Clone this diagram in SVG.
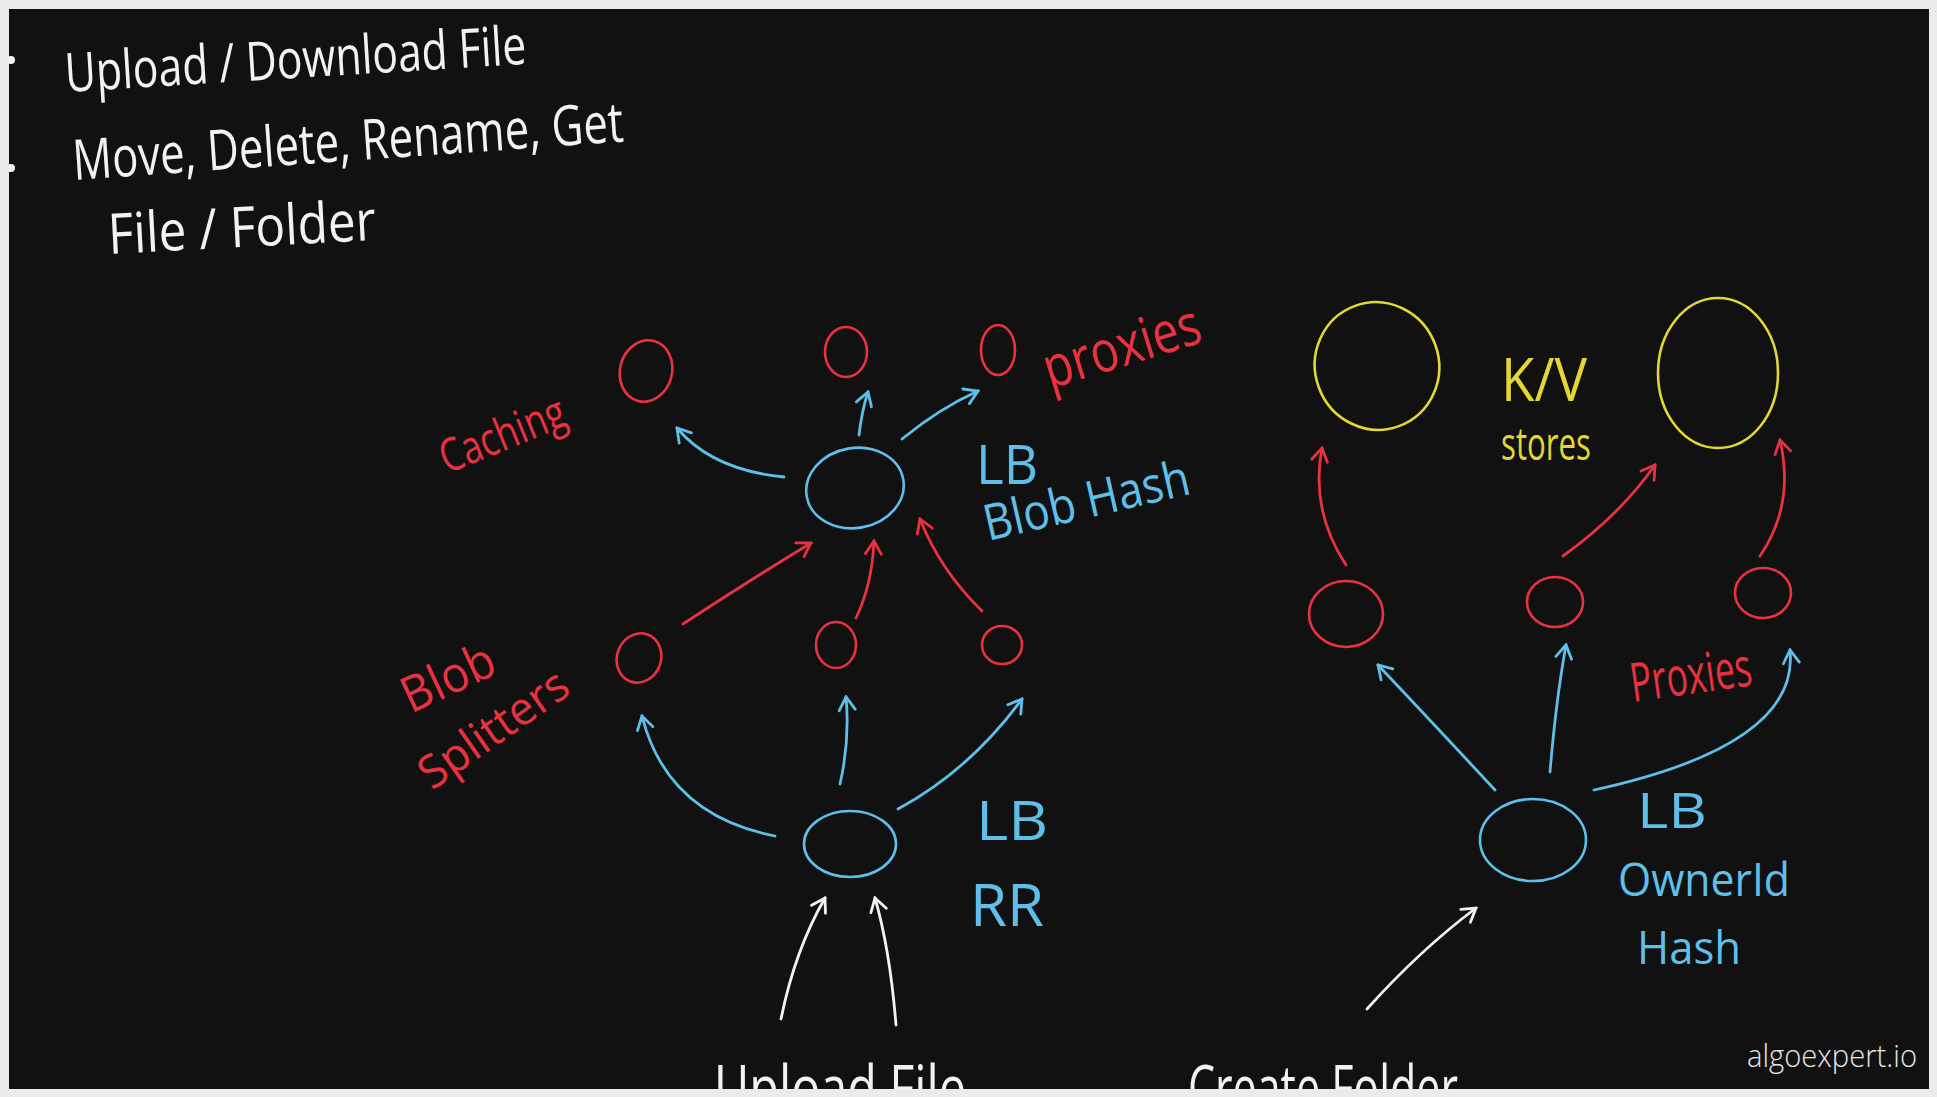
<svg xmlns="http://www.w3.org/2000/svg" width="1937" height="1097" viewBox="0 0 1937 1097">
<defs>
<style>
.hw{font-family:"Open Sans","Liberation Sans",sans-serif;font-weight:400;}
.w{fill:#f2f2f2;}
.r{fill:#e8323f;}
.b{fill:#5fbfe8;}
.y{fill:#e4d633;}
.sr{stroke:#e8323f;}
.sb{stroke:#5fbfe8;}
.sy{stroke:#e4d633;}
.sw{stroke:#f2f2f2;}
.node ellipse,.node path{fill:none;stroke-width:2.6;stroke-linecap:round;}
.conn path{fill:none;stroke-width:2.8;stroke-linecap:round;}
</style>
<clipPath id="board"><rect x="9" y="9" width="1920" height="1080"/></clipPath>
<marker id="mR" viewBox="-16 -10 18 20" refX="0" refY="0" markerWidth="18" markerHeight="20" markerUnits="userSpaceOnUse" orient="auto"><path d="M-13,-8 L0,0 L-13,8" fill="none" stroke="#e8323f" stroke-width="2.8" stroke-linecap="round"/></marker>
<marker id="mB" viewBox="-16 -10 18 20" refX="0" refY="0" markerWidth="18" markerHeight="20" markerUnits="userSpaceOnUse" orient="auto"><path d="M-13,-8 L0,0 L-13,8" fill="none" stroke="#5fbfe8" stroke-width="2.8" stroke-linecap="round"/></marker>
<marker id="mW" viewBox="-16 -10 18 20" refX="0" refY="0" markerWidth="18" markerHeight="20" markerUnits="userSpaceOnUse" orient="auto"><path d="M-13,-8 L0,0 L-13,8" fill="none" stroke="#f2f2f2" stroke-width="2.8" stroke-linecap="round"/></marker>
</defs>
<rect x="0" y="0" width="1937" height="1097" fill="#ebebeb"/>
<rect x="9" y="9" width="1920" height="1080" fill="#111111"/>
<g clip-path="url(#board)">
<g id="notes" class="hw w">
<circle cx="11" cy="60" r="4" fill="#f2f2f2"/>
<circle cx="11" cy="168" r="4" fill="#f2f2f2"/>
<text x="66" y="92" font-size="54" textLength="462" lengthAdjust="spacingAndGlyphs" transform="rotate(-3.5 66 92)">Upload / Download File</text>
<text x="74" y="180" font-size="56" textLength="552" lengthAdjust="spacingAndGlyphs" transform="rotate(-4 74 180)">Move, Delete, Rename, Get</text>
<text x="109" y="254" font-size="56" textLength="268" lengthAdjust="spacingAndGlyphs" transform="rotate(-3 109 254)">File / Folder</text>
</g>

<g class="conn">
<path class="sb" d="M784,477 Q712,470 677,428" marker-end="url(#mB)"/>
<path class="sb" d="M859,435 Q862,410 868,392" marker-end="url(#mB)"/>
<path class="sb" d="M902,439 Q940,408 978,391" marker-end="url(#mB)"/>
<path class="sr" d="M683,624 Q750,580 811,543" marker-end="url(#mR)"/>
<path class="sr" d="M856,618 Q872,585 874,541" marker-end="url(#mR)"/>
<path class="sr" d="M982,611 Q940,570 920,519" marker-end="url(#mR)"/>
<path class="sb" d="M775,836 Q667,815 642,716" marker-end="url(#mB)"/>
<path class="sb" d="M840,784 Q850,740 846,697" marker-end="url(#mB)"/>
<path class="sb" d="M898,809 Q970,770 1022,699" marker-end="url(#mB)"/>
<path class="sw" d="M781,1019 Q795,950 825,898" marker-end="url(#mW)"/>
<path class="sw" d="M896,1025 Q890,950 875,898" marker-end="url(#mW)"/>
<path class="sw" d="M1367,1009 Q1420,950 1476,908" marker-end="url(#mW)"/>
<path class="sr" d="M1346,565 Q1310,510 1322,448" marker-end="url(#mR)"/>
<path class="sr" d="M1563,556 Q1620,515 1655,465" marker-end="url(#mR)"/>
<path class="sr" d="M1760,556 Q1795,505 1780,440" marker-end="url(#mR)"/>
<path class="sb" d="M1495,790 Q1430,720 1378,665" marker-end="url(#mB)"/>
<path class="sb" d="M1550,772 Q1556,700 1566,645" marker-end="url(#mB)"/>
<path class="sb" d="M1594,790 Q1800,745 1790,650" marker-end="url(#mB)"/>
</g>

<g id="cache-1" class="node"><ellipse class="sr" cx="646" cy="371" rx="26" ry="31" transform="rotate(15 646 371)"/></g>
<g id="cache-2" class="node"><ellipse class="sr" cx="846" cy="352" rx="21" ry="25"/></g>
<g id="cache-3" class="node"><ellipse class="sr" cx="998" cy="350" rx="17" ry="25"/></g>
<g id="lb-blob-hash" class="node"><ellipse class="sb" cx="855" cy="488" rx="49" ry="40" transform="rotate(-10 855 488)"/></g>
<g id="splitter-1" class="node"><ellipse class="sr" cx="639" cy="658" rx="22" ry="25" transform="rotate(20 639 658)"/></g>
<g id="splitter-2" class="node"><ellipse class="sr" cx="836" cy="645" rx="20" ry="23"/></g>
<g id="splitter-3" class="node"><ellipse class="sr" cx="1002" cy="645" rx="20" ry="19"/></g>
<g id="lb-rr" class="node"><ellipse class="sb" cx="850" cy="844" rx="46" ry="33"/></g>
<g id="kv-1" class="node"><ellipse class="sy" cx="1377" cy="366" rx="62" ry="64" transform="rotate(-20 1377 366)"/></g>
<g id="kv-2" class="node"><ellipse class="sy" cx="1718" cy="373" rx="60" ry="75"/></g>
<g id="proxy-1" class="node"><ellipse class="sr" cx="1346" cy="614" rx="37" ry="33"/></g>
<g id="proxy-2" class="node"><ellipse class="sr" cx="1555" cy="602" rx="28" ry="25"/></g>
<g id="proxy-3" class="node"><ellipse class="sr" cx="1763" cy="593" rx="28" ry="25"/></g>
<g id="lb-owner" class="node"><ellipse class="sb" cx="1533" cy="840" rx="53" ry="41"/></g>

<g id="labels" class="hw">
<text class="r" x="447" y="474" font-size="46" textLength="132" lengthAdjust="spacingAndGlyphs" transform="rotate(-22 447 474)">Caching</text>
<text class="r" x="1050" y="389" font-size="58" textLength="162" lengthAdjust="spacingAndGlyphs" transform="rotate(-17 1050 389)">proxies</text>
<text class="b" x="976" y="484" font-size="54" textLength="62" lengthAdjust="spacingAndGlyphs">LB</text>
<text class="b" x="988" y="541" font-size="50" textLength="210" lengthAdjust="spacingAndGlyphs" transform="rotate(-13 988 541)">Blob Hash</text>
<text class="r" x="411" y="714" font-size="50" textLength="98" lengthAdjust="spacingAndGlyphs" transform="rotate(-25 411 714)">Blob</text>
<text class="r" x="432" y="791" font-size="46" textLength="172" lengthAdjust="spacingAndGlyphs" transform="rotate(-35 432 791)">Splitters</text>
<text class="b" x="976" y="840" font-size="54" textLength="72" lengthAdjust="spacingAndGlyphs">LB</text>
<text class="b" x="970" y="926" font-size="58" textLength="74" lengthAdjust="spacingAndGlyphs">RR</text>
<text class="y" x="1501" y="401" font-size="60" textLength="86" lengthAdjust="spacingAndGlyphs">K/V</text>
<text class="y" x="1501" y="460" font-size="46" textLength="90" lengthAdjust="spacingAndGlyphs">stores</text>
<text class="r" x="1633" y="702" font-size="54" textLength="122" lengthAdjust="spacingAndGlyphs" transform="rotate(-8 1633 702)">Proxies</text>
<text class="b" x="1637" y="828" font-size="50" textLength="70" lengthAdjust="spacingAndGlyphs">LB</text>
<text class="b" x="1618" y="896" font-size="46" textLength="172" lengthAdjust="spacingAndGlyphs">OwnerId</text>
<text class="b" x="1637" y="964" font-size="46" textLength="104" lengthAdjust="spacingAndGlyphs">Hash</text>
<text class="w" x="714" y="1110" font-size="62" textLength="252" lengthAdjust="spacingAndGlyphs">Upload File</text>
<text class="w" x="1188" y="1110" font-size="62" textLength="270" lengthAdjust="spacingAndGlyphs">Create Folder</text>
</g>
<text x="1747" y="1067" font-family="'Open Sans','Liberation Sans',sans-serif" font-weight="300" font-size="31" fill="#e6e6e6" textLength="170" lengthAdjust="spacingAndGlyphs">algoexpert.io</text>
</g>
</svg>
